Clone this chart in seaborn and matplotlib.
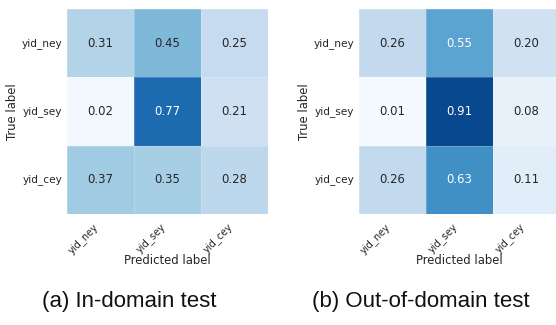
import numpy as np
import pandas as pd
import seaborn as sns
import matplotlib
matplotlib.use("Agg")
import matplotlib.pyplot as plt

# Class labels (rows: true, columns: predicted)
classes = ["yid_ney", "yid_sey", "yid_cey"]

# Normalized confusion matrices
in_domain = [
    [0.31, 0.45, 0.25],
    [0.02, 0.77, 0.21],
    [0.37, 0.35, 0.28],
]
out_of_domain = [
    [0.26, 0.55, 0.20],
    [0.01, 0.91, 0.08],
    [0.26, 0.63, 0.11],
]

captions = ["(a) In-domain test", "(b) Out-of-domain test"]

sns.set_theme(style="white")
plt.rcParams["font.family"] = ["DejaVu Sans"]

W, H = 556, 325
fig = plt.figure(figsize=(W / 100, H / 100), dpi=100)

panel_left = [67, 359]
panel_w, panel_top, panel_bottom = 201, 9, 214
caption_x = [129, 421]

for i, mat in enumerate([in_domain, out_of_domain]):
    ax = fig.add_axes([
        panel_left[i] / W,
        (H - panel_bottom) / H,
        panel_w / W,
        (panel_bottom - panel_top) / H,
    ])
    df = pd.DataFrame(mat, index=classes, columns=classes)
    sns.heatmap(
        df, ax=ax, cmap="Blues", vmin=0, vmax=1, cbar=False,
        annot=True, fmt=".2f", annot_kws={"fontsize": 8.4},
        linewidths=0.4, linecolor=(1, 1, 1, 0.2),
    )
    ax.set_xticklabels(classes, rotation=45, ha="right",
                       fontsize=7.1, color="#262626")
    ax.set_yticklabels(classes, rotation=0, fontsize=7.6, color="#262626")
    ax.tick_params(axis="x", pad=5, length=0)
    ax.tick_params(axis="y", pad=3.5, length=0)
    ax.set_xlabel("Predicted label", fontsize=8.4, color="#262626")
    ax.set_ylabel("True label", fontsize=8.4, color="#262626")
    ax.xaxis.set_label_coords(0.5, -0.195)
    ax.yaxis.set_label_coords(-0.241, 0.5)
    fig.text(caption_x[i] / W, 1 - 302 / H, captions[i],
             ha="center", va="center", fontsize=16,
             family="Liberation Sans", color="#111111")

fig.savefig("out.png", dpi=100)
